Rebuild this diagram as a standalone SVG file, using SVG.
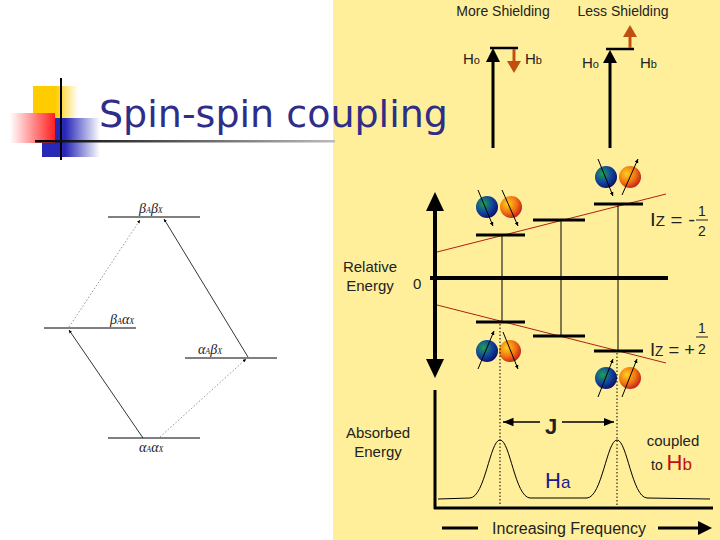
<svg xmlns="http://www.w3.org/2000/svg" width="720" height="540" viewBox="0 0 720 540">
<style>
.t{font-family:"Liberation Sans",Arial,sans-serif;fill:#222}
.g{font-family:"Liberation Serif",serif;font-style:italic;font-size:14px;fill:#222}
.k{stroke:#000;fill:none}
.lv{stroke:#000;stroke-width:3}
.rd{stroke:#b02010;stroke-width:1}
</style>
<defs>
<linearGradient id="gy" x1="0" x2="1"><stop offset="0.5" stop-color="#ffcc00"/><stop offset="1" stop-color="#fff"/></linearGradient>
<linearGradient id="gr" x1="1" x2="0"><stop offset="0" stop-color="#ff2020"/><stop offset="1" stop-color="#fff"/></linearGradient>
<linearGradient id="gb" x1="0" x2="1"><stop offset="0.4" stop-color="#2828b8"/><stop offset="1" stop-color="#fff"/></linearGradient>
<linearGradient id="gl" x1="0" x2="1"><stop offset="0" stop-color="#000"/><stop offset="1" stop-color="#bbb"/></linearGradient>
<radialGradient id="sb" cx="0.35" cy="0.35" r="0.7"><stop offset="0" stop-color="#20a050"/><stop offset="0.6" stop-color="#1040a0"/><stop offset="1" stop-color="#101060"/></radialGradient>
<radialGradient id="so" cx="0.35" cy="0.35" r="0.7"><stop offset="0" stop-color="#ffd020"/><stop offset="0.6" stop-color="#f07010"/><stop offset="1" stop-color="#c02020"/></radialGradient>
<marker id="a" viewBox="0 0 10 10" refX="10" refY="5" markerWidth="7" markerHeight="7" orient="auto-start-reverse"><path d="M0,1L10,5L0,9z" fill="#000"/></marker>
<marker id="s" viewBox="0 0 10 10" refX="10" refY="5" markerWidth="4" markerHeight="4" orient="auto"><path d="M0,0L10,5L0,10z" fill="#000"/></marker>
</defs>
<rect width="720" height="540" fill="#fff"/>
<rect x="333" y="0" width="387" height="540" fill="#ffef9a"/>

<g id="title">
<rect x="33" y="86" width="45" height="34" fill="url(#gy)"/>
<rect x="42" y="118" width="58" height="39" fill="url(#gb)"/>
<rect x="10" y="113" width="45" height="30" fill="url(#gr)"/>
<line x1="61" y1="78" x2="61" y2="160" stroke="#000" stroke-width="2"/>
<rect x="35" y="140" width="300" height="2.5" fill="url(#gl)"/>
<text x="99" y="127" font-family="'DejaVu Sans',sans-serif" font-size="38" fill="#2e2e88">Spin-spin coupling</text>
</g>

<g id="energy-levels">
<line x1="108" y1="217" x2="200" y2="217" stroke="#000"/>
<text x="139" y="213" class="g">β<tspan font-size="8">A</tspan>β<tspan font-size="8">X</tspan></text>
<line x1="44" y1="328" x2="136" y2="328" stroke="#000"/>
<text x="110" y="324" class="g">β<tspan font-size="8">A</tspan>α<tspan font-size="8">X</tspan></text>
<line x1="185" y1="358" x2="277" y2="358" stroke="#000"/>
<text x="198" y="354" class="g">α<tspan font-size="8">A</tspan>β<tspan font-size="8">X</tspan></text>
<line x1="108" y1="438" x2="200" y2="438" stroke="#000"/>
<text x="139" y="452" class="g">α<tspan font-size="8">A</tspan>α<tspan font-size="8">X</tspan></text>
</g>
<g id="transitions" stroke-width="0.8">
<line x1="143" y1="438" x2="69" y2="330" stroke="#000" marker-end="url(#s)"/>
<line x1="248" y1="357" x2="164" y2="219" stroke="#000" marker-end="url(#s)"/>
<line x1="160" y1="437" x2="246" y2="359" stroke="#777" stroke-dasharray="1.5,2" marker-end="url(#s)"/>
<line x1="69" y1="327" x2="140" y2="220" stroke="#777" stroke-dasharray="1.5,2" marker-end="url(#s)"/>
</g>

<g id="header">
<text x="503" y="16" class="t" font-size="14" text-anchor="middle">More Shielding</text>
<text x="623" y="16" class="t" font-size="14" text-anchor="middle">Less Shielding</text>
<line x1="493" y1="148" x2="493" y2="60" stroke="#000" stroke-width="3"/>
<path d="M486,62L493,48L500,62z" fill="#000"/>
<line x1="490" y1="48" x2="518" y2="48" stroke="#000" stroke-width="2.5"/>
<line x1="514" y1="49" x2="514" y2="62" stroke="#c05010" stroke-width="3"/>
<path d="M507,61L514,73L521,61z" fill="#c05010"/>
<text x="463" y="64" class="t" font-size="15">H<tspan font-size="11">o</tspan></text>
<text x="525" y="64" class="t" font-size="15">H<tspan font-size="11">b</tspan></text>
<line x1="610" y1="148" x2="610" y2="62" stroke="#000" stroke-width="3"/>
<path d="M603,63L610,50L617,63z" fill="#000"/>
<line x1="606" y1="49" x2="634" y2="49" stroke="#000" stroke-width="2.5"/>
<line x1="630" y1="48" x2="630" y2="36" stroke="#c05010" stroke-width="3"/>
<path d="M623,37L630,25L637,37z" fill="#c05010"/>
<text x="582" y="68" class="t" font-size="15">H<tspan font-size="11">o</tspan></text>
<text x="640" y="68" class="t" font-size="15">H<tspan font-size="11">b</tspan></text>
</g>

<g id="energy-axis">
<line x1="435" y1="208" x2="435" y2="362" stroke="#000" stroke-width="4"/>
<path d="M426,211L435,192L444,211z" fill="#000"/>
<path d="M426,359L435,378L444,359z" fill="#000"/>
<line x1="430" y1="278" x2="668" y2="278" stroke="#000" stroke-width="4"/>
<text x="370" y="272" class="t" font-size="15" text-anchor="middle">Relative</text>
<text x="370" y="291" class="t" font-size="15" text-anchor="middle">Energy</text>
<text x="413" y="289" class="t" font-size="15">0</text>
<line x1="437" y1="252" x2="666" y2="194" class="rd"/>
<line x1="437" y1="305" x2="666" y2="363" class="rd"/>
<line x1="476" y1="235" x2="525" y2="235" class="lv"/>
<line x1="533" y1="220" x2="585" y2="220" class="lv"/>
<line x1="594" y1="204" x2="643" y2="204" class="lv"/>
<line x1="476" y1="322" x2="525" y2="322" class="lv"/>
<line x1="533" y1="336" x2="585" y2="336" class="lv"/>
<line x1="594" y1="351" x2="643" y2="351" class="lv"/>
<g stroke="#000" stroke-width="1">
<line x1="502" y1="235" x2="502" y2="322"/>
<line x1="561" y1="220" x2="561" y2="336"/>
<line x1="618" y1="204" x2="618" y2="351"/>
</g>
<text x="650" y="226" class="t" font-size="19" textLength="45" lengthAdjust="spacingAndGlyphs">I<tspan font-size="14">Z</tspan> = -</text>
<text x="698" y="216" class="t" font-size="14">1</text>
<line x1="696" y1="220" x2="708" y2="220" stroke="#222"/>
<text x="698" y="236" class="t" font-size="14">2</text>
<text x="650" y="356" class="t" font-size="19" textLength="45" lengthAdjust="spacingAndGlyphs">I<tspan font-size="14">Z</tspan> = +</text>
<text x="698" y="333" class="t" font-size="14">1</text>
<line x1="696" y1="337" x2="708" y2="337" stroke="#222"/>
<text x="698" y="354" class="t" font-size="14">2</text>
</g>

<g id="spins" stroke="#000" stroke-width="1">
<circle cx="487" cy="207" r="11" fill="url(#sb)" stroke="none"/>
<circle cx="511" cy="207" r="11" fill="url(#so)" stroke="none"/>
<line x1="478" y1="190" x2="493" y2="226" marker-end="url(#s)"/>
<line x1="502" y1="190" x2="518" y2="226" marker-end="url(#s)"/>
<circle cx="606" cy="177" r="11" fill="url(#sb)" stroke="none"/>
<circle cx="630" cy="177" r="11" fill="url(#so)" stroke="none"/>
<line x1="598" y1="159" x2="613" y2="196" marker-end="url(#s)"/>
<line x1="622" y1="195" x2="638" y2="159" marker-end="url(#s)"/>
<circle cx="487" cy="351" r="11" fill="url(#sb)" stroke="none"/>
<circle cx="510" cy="351" r="11" fill="url(#so)" stroke="none"/>
<line x1="478" y1="369" x2="494" y2="331" marker-end="url(#s)"/>
<line x1="503" y1="332" x2="518" y2="369" marker-end="url(#s)"/>
<circle cx="606" cy="378" r="11" fill="url(#sb)" stroke="none"/>
<circle cx="630" cy="378" r="11" fill="url(#so)" stroke="none"/>
<line x1="598" y1="397" x2="613" y2="359" marker-end="url(#s)"/>
<line x1="622" y1="397" x2="637" y2="359" marker-end="url(#s)"/>
</g>

<g id="spectrum">
<line x1="435" y1="390" x2="435" y2="509" stroke="#000" stroke-width="3"/>
<line x1="434" y1="508" x2="713" y2="508" stroke="#000" stroke-width="3"/>
<g stroke="#000" stroke-width="1" stroke-dasharray="1.5,2">
<line x1="500" y1="324" x2="500" y2="506"/>
<line x1="617" y1="353" x2="617" y2="506"/>
</g>
<path d="M438,499 L470,498 C485,497 490,440 500,440 C510,440 515,497 530,498 L587,498 C602,497 607,440 617,440 C627,440 632,497 647,498 L710,499" fill="none" stroke="#000" stroke-width="1"/>
<line x1="503" y1="422" x2="614" y2="422" stroke="#000" stroke-width="1.5" marker-start="url(#a)" marker-end="url(#a)"/>
<rect x="540" y="414" width="22" height="18" fill="#ffef9a"/>
<text x="551" y="434" class="t" font-size="22" font-weight="bold" text-anchor="middle">J</text>
<text x="378" y="438" class="t" font-size="15" text-anchor="middle">Absorbed</text>
<text x="378" y="457" class="t" font-size="15" text-anchor="middle">Energy</text>
<text x="545" y="488" class="t" font-size="22" style="fill:#1a1a90">H<tspan font-size="17">a</tspan></text>
<text x="673" y="446" class="t" font-size="15" text-anchor="middle">coupled</text>
<text x="651" y="470" class="t" font-size="14">to <tspan font-size="22" style="fill:#c01010">H<tspan font-size="17">b</tspan></tspan></text>
<line x1="442" y1="528" x2="478" y2="528" stroke="#000" stroke-width="3"/>
<text x="569" y="534" class="t" font-size="16" text-anchor="middle">Increasing Frequency</text>
<line x1="658" y1="528" x2="700" y2="528" stroke="#000" stroke-width="3"/>
<path d="M698,521L712,528L698,535z" fill="#000"/>
</g>
</svg>
